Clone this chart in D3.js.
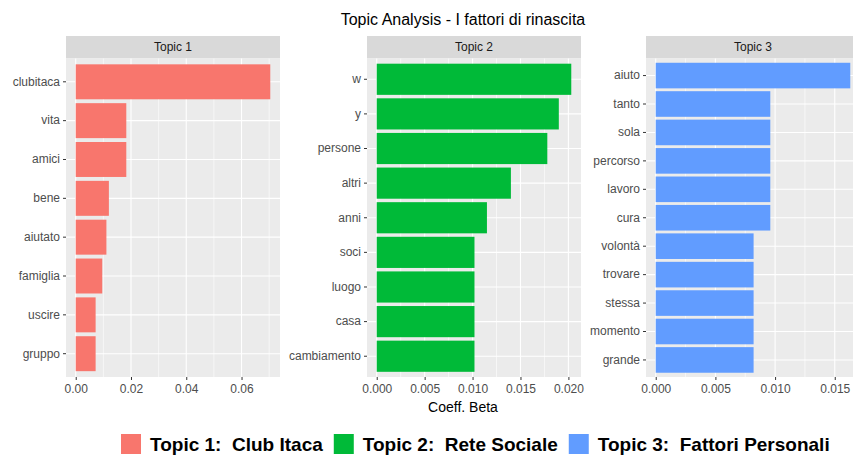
<!DOCTYPE html>
<html>
<head>
<meta charset="utf-8">
<script src="https://cdn.jsdelivr.net/npm/d3@7"></script>
<style>
  body { margin: 0; background: #fff; }
  svg { display: block; font-family: "Liberation Sans", Arial, sans-serif; }
</style>
</head>
<body>
<div id="chart"></div>
<script>
// values
const topic1Terms = ["clubitaca", "vita", "amici", "bene", "aiutato", "famiglia", "uscire", "gruppo"];
const topic1Beta = [0.0704, 0.0183, 0.0183, 0.0120, 0.0111, 0.0096, 0.0072, 0.0072];
const topic2Terms = ["w", "y", "persone", "altri", "anni", "soci", "luogo", "casa", "cambiamento"];
const topic2Beta = [0.0203, 0.0190, 0.0178, 0.0140, 0.0115, 0.0102, 0.0102, 0.0102, 0.0102];
const topic3Terms = ["aiuto", "tanto", "sola", "percorso", "lavoro", "cura", "volontà", "trovare", "stessa", "momento", "grande"];
const topic3Beta = [0.0163, 0.0096, 0.0096, 0.0096, 0.0096, 0.0096, 0.0082, 0.0082, 0.0082, 0.0082, 0.0082];
const topic1Ticks = [0, 0.02, 0.04, 0.06];
const topic23Ticks = [0, 0.005, 0.010, 0.015, 0.020];
const stripLabels = ["Topic 1", "Topic 2", "Topic 3"];
const legendLabels = ["Topic 1:  Club Itaca", "Topic 2:  Rete Sociale", "Topic 3:  Fattori Personali"];
const colors = ["#F8766D", "#00BA38", "#619CFF"];

const width = 853, height = 456;
const svg = d3.select("#chart").append("svg")
    .attr("width", width)
    .attr("height", height);

// panel layout (facet_wrap style)
const panelW = 214;
const panelLefts = [66, 367, 646];
const stripTop = 36, panelTop = 58.5, panelBottom = 377;

const panels = [
    {terms: topic1Terms, beta: topic1Beta, ticks: topic1Ticks, fmt: d3.format(".2f")},
    {terms: topic2Terms, beta: topic2Beta, ticks: topic23Ticks, fmt: d3.format(".3f")},
    {terms: topic3Terms, beta: topic3Beta, ticks: topic23Ticks.filter(t => t <= 0.016), fmt: d3.format(".3f")}
];

svg.append("text")
    .attr("x", (panelLefts[0] + panelLefts[2] + panelW) / 2)
    .attr("y", 25)
    .attr("text-anchor", "middle")
    .attr("font-size", 16)
    .attr("fill", "#000")
    .text("Topic Analysis - I fattori di rinascita");

panels.forEach((p, i) => {
    let left = panelLefts[i];
    let maxV = d3.max(p.beta);
    let x = d3.scaleLinear()
        .domain([-0.05 * maxV, 1.05 * maxV])
        .range([left, left + panelW]);
    let y = d3.scaleBand()
        .domain(p.terms)
        .range([panelTop, panelBottom])
        .paddingInner(0.1)
        .paddingOuter(0.15);

    let g = svg.append("g");

    // strip
    g.append("rect")
        .attr("x", left).attr("y", stripTop)
        .attr("width", panelW).attr("height", panelTop - stripTop)
        .attr("fill", "#D9D9D9");
    g.append("text")
        .attr("x", left + panelW / 2)
        .attr("y", (stripTop + panelTop) / 2 + 4)
        .attr("text-anchor", "middle")
        .attr("font-size", 12)
        .attr("fill", "#1A1A1A")
        .text(stripLabels[i]);

    // panel background
    g.append("rect")
        .attr("x", left).attr("y", panelTop)
        .attr("width", panelW).attr("height", panelBottom - panelTop)
        .attr("fill", "#EBEBEB");

    // minor grid
    let minor = [];
    for (let k = 0; k < p.ticks.length - 1; k++) minor.push((p.ticks[k] + p.ticks[k + 1]) / 2);
    let last = p.ticks[p.ticks.length - 1], step = p.ticks[1] - p.ticks[0];
    if (last + step / 2 <= x.domain()[1]) minor.push(last + step / 2);
    g.selectAll(".minor").data(minor).enter().append("line")
        .attr("x1", d => x(d)).attr("x2", d => x(d))
        .attr("y1", panelTop).attr("y2", panelBottom)
        .attr("stroke", "#fff").attr("stroke-width", 0.6);

    // major grid
    g.selectAll(".majorx").data(p.ticks).enter().append("line")
        .attr("x1", d => x(d)).attr("x2", d => x(d))
        .attr("y1", panelTop).attr("y2", panelBottom)
        .attr("stroke", "#fff").attr("stroke-width", 1.1);
    g.selectAll(".majory").data(p.terms).enter().append("line")
        .attr("x1", left).attr("x2", left + panelW)
        .attr("y1", d => y(d) + y.bandwidth() / 2).attr("y2", d => y(d) + y.bandwidth() / 2)
        .attr("stroke", "#fff").attr("stroke-width", 1.1);

    // bars
    g.selectAll(".bar").data(p.terms).enter().append("rect")
        .attr("x", x(0))
        .attr("y", d => y(d))
        .attr("width", (d, j) => x(p.beta[j]) - x(0))
        .attr("height", y.bandwidth())
        .attr("fill", colors[i]);

    // x axis
    let xAxis = g.append("g")
        .attr("transform", `translate(0,${panelBottom})`)
        .call(d3.axisBottom(x).tickValues(p.ticks).tickFormat(p.fmt).tickSize(3).tickPadding(4));
    xAxis.select(".domain").remove();
    xAxis.selectAll("line").attr("stroke", "#333");
    xAxis.selectAll("text").attr("font-size", 12).attr("fill", "#4D4D4D")
        .attr("font-family", "Liberation Sans, Arial, sans-serif");

    // y axis
    let yAxis = g.append("g")
        .attr("transform", `translate(${left},0)`)
        .call(d3.axisLeft(y).tickSize(3).tickPadding(3));
    yAxis.select(".domain").remove();
    yAxis.selectAll("line").attr("stroke", "#333");
    yAxis.selectAll("text").attr("font-size", 12).attr("fill", "#4D4D4D")
        .attr("font-family", "Liberation Sans, Arial, sans-serif");
});

svg.append("text")
    .attr("x", (panelLefts[0] + panelLefts[2] + panelW) / 2)
    .attr("y", 412)
    .attr("text-anchor", "middle")
    .attr("font-size", 14)
    .attr("fill", "#000")
    .text("Coeff. Beta");

// legend
let legend = svg.append("g");
let lx = 121;
legendLabels.forEach((lab, i) => {
    legend.append("rect")
        .attr("x", lx).attr("y", 434)
        .attr("width", 20).attr("height", 20)
        .attr("fill", colors[i]);
    let t = legend.append("text")
        .attr("x", lx + 29)
        .attr("y", 451)
        .attr("font-size", 19)
        .attr("font-weight", "bold")
        .attr("fill", "#000")
        .style("white-space", "pre")
        .text(lab);
    lx += 29 + t.node().getComputedTextLength() + 11;
});
</script>
</body>
</html>
